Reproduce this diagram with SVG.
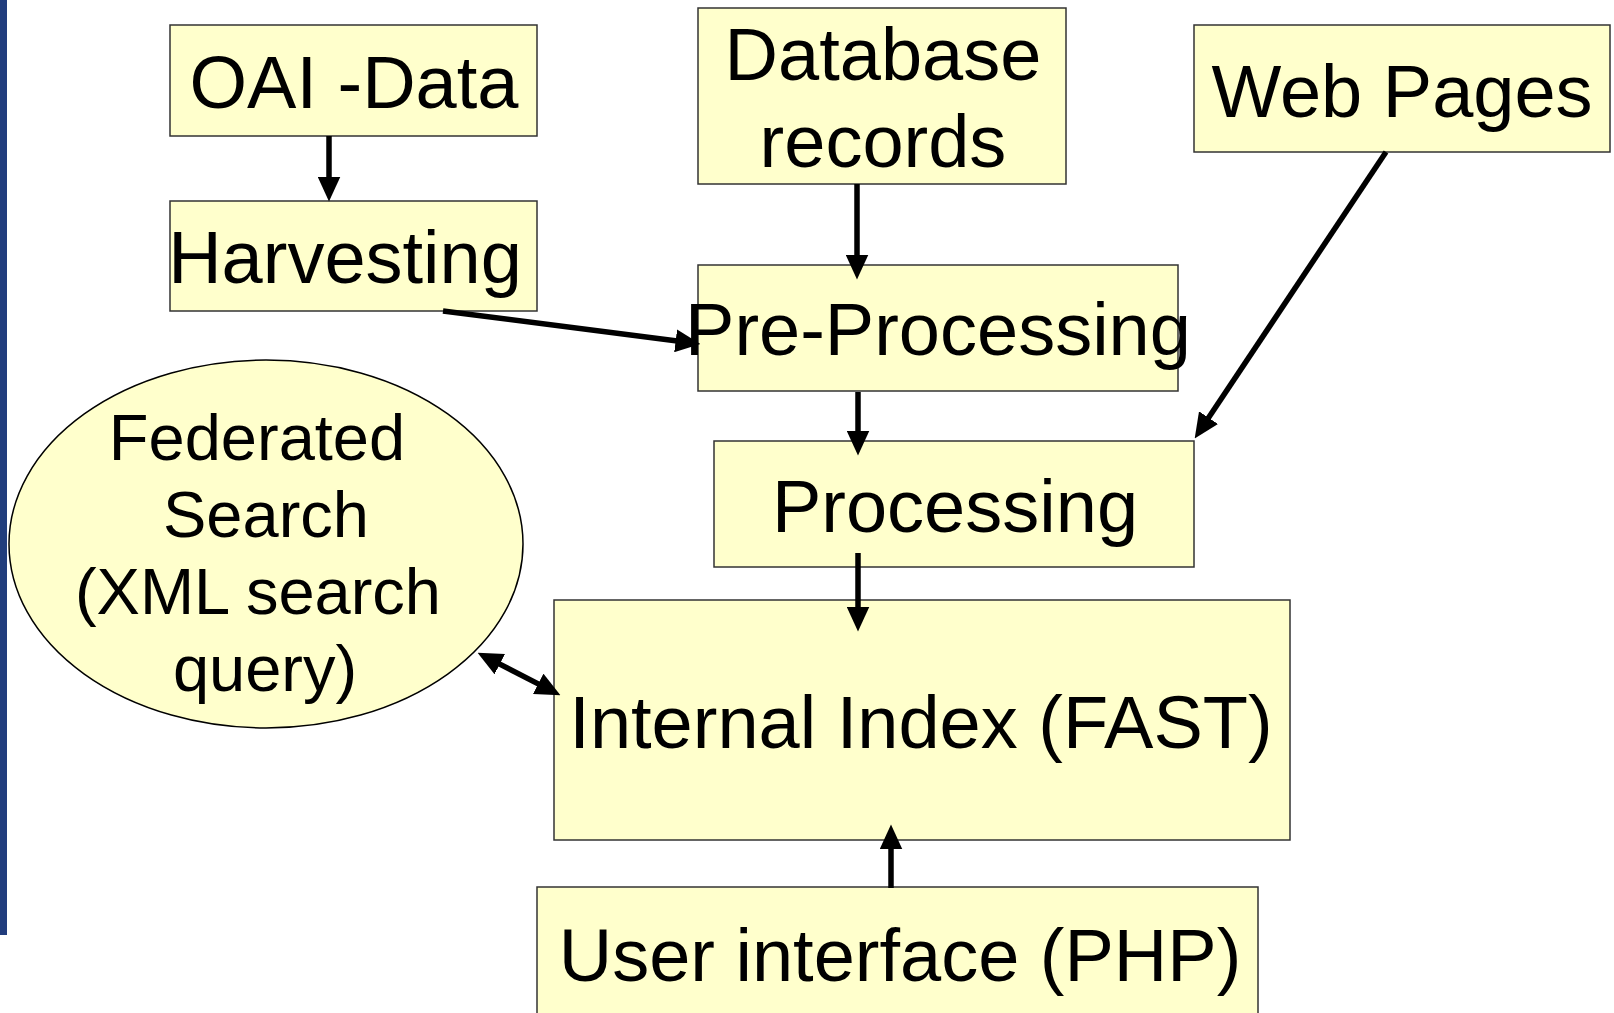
<svg xmlns="http://www.w3.org/2000/svg" width="1614" height="1013" viewBox="0 0 1614 1013">
  <style>
    .box { fill: #FFFFCC; stroke: #333333; stroke-width: 1.5; }
    .ell { fill: #FFFFCC; stroke: #000000; stroke-width: 1.5; }
    .t { font-family: "Liberation Sans", Arial, sans-serif; font-size: 74px; fill: #000; text-anchor: middle; }
    .ts { font-family: "Liberation Sans", Arial, sans-serif; font-size: 65px; fill: #000; text-anchor: middle; }
    .c { stroke: #000; stroke-width: 5.5; fill: none; }
  </style>
  <defs>
    <marker id="ah" markerUnits="userSpaceOnUse" markerWidth="25" markerHeight="23" viewBox="0 0 24 22" refX="11" refY="11" orient="auto-start-reverse">
      <path d="M0,0 L24,11 L0,22 z" fill="#000"/>
    </marker>
  </defs>
  <rect x="0" y="0" width="1614" height="1013" fill="#FFFFFF"/>
  <rect id="sidebar" x="0" y="0" width="7" height="935" fill="#213D7D"/>

  <g id="oai">
    <rect class="box" x="170" y="25" width="367" height="111"/>
    <text class="t" x="354" y="108">OAI -Data</text>
  </g>
  <g id="harvesting">
    <rect class="box" x="170" y="201" width="367" height="110"/>
    <text class="t" x="345" y="283">Harvesting</text>
  </g>
  <g id="database">
    <rect class="box" x="698" y="8" width="368" height="176"/>
    <text class="t" x="883" y="80">Database</text>
    <text class="t" x="883" y="167">records</text>
  </g>
  <g id="webpages">
    <rect class="box" x="1194" y="25" width="416" height="127"/>
    <text class="t" x="1402" y="117">Web Pages</text>
  </g>
  <g id="preprocessing">
    <rect class="box" x="698" y="265" width="480" height="126"/>
    <text class="t" x="938" y="355">Pre-Processing</text>
  </g>
  <g id="processing">
    <rect class="box" x="714" y="441" width="480" height="126"/>
    <text class="t" x="955" y="532">Processing</text>
  </g>
  <g id="federated">
    <ellipse class="ell" cx="266" cy="544" rx="257" ry="184"/>
    <text class="ts" x="257" y="460">Federated</text>
    <text class="ts" x="266" y="537">Search</text>
    <text class="ts" x="258" y="614">(XML search</text>
    <text class="ts" x="265" y="691">query)</text>
  </g>
  <g id="index">
    <rect class="box" x="554" y="600" width="736" height="240"/>
    <text class="t" x="921" y="748">Internal Index (FAST)</text>
  </g>
  <g id="ui">
    <rect class="box" x="537" y="887" width="721" height="140"/>
    <text class="t" x="900" y="981">User interface (PHP)</text>
  </g>

  <g id="connectors">
    <line class="c" x1="329" y1="136" x2="329" y2="188" marker-end="url(#ah)"/>
    <line class="c" x1="443" y1="311" x2="687" y2="342.3" marker-end="url(#ah)"/>
    <line class="c" x1="857" y1="184" x2="857" y2="266" marker-end="url(#ah)"/>
    <line class="c" x1="1386" y1="152" x2="1202.2" y2="427.2" marker-end="url(#ah)"/>
    <line class="c" x1="858" y1="392" x2="858" y2="442" marker-end="url(#ah)"/>
    <line class="c" x1="858" y1="553" x2="858" y2="618" marker-end="url(#ah)"/>
    <line class="c" x1="891" y1="888" x2="891" y2="838" marker-end="url(#ah)"/>
    <line class="c" x1="489.6" y1="658.9" x2="548.4" y2="689.1" marker-start="url(#ah)" marker-end="url(#ah)"/>
  </g>
</svg>
